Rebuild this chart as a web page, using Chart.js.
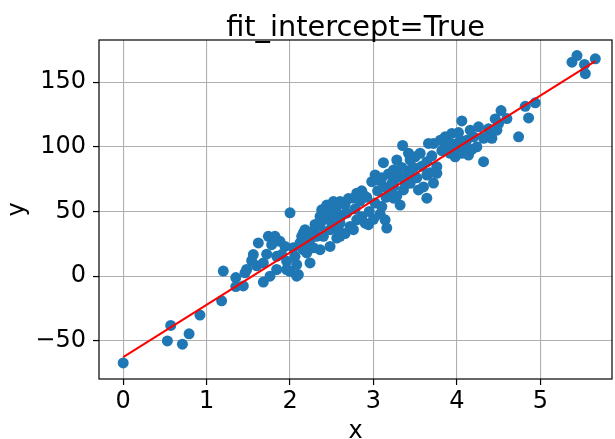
<!DOCTYPE html>
<html>
<head>
<meta charset="utf-8">
<script src="https://cdn.jsdelivr.net/npm/chart.js@4.4.1/dist/chart.umd.min.js"></script>
<style>
  html, body { margin: 0; padding: 0; background: #fff; }
  #wrap { width: 615px; height: 439px; }
</style>
</head>
<body>
<div id="wrap"><canvas id="fitChart" width="615" height="439"></canvas></div>
<script>
// sample points
const xs = [
    0.00, 0.53, 0.57, 0.71, 0.79, 0.92, 1.18, 1.20, 1.35, 1.35,
    1.44, 1.46, 1.48, 1.54, 1.56, 1.60, 1.62, 1.68, 1.68, 1.72,
    1.74, 1.76, 1.78, 1.82, 1.84, 1.84, 1.88, 1.90, 1.94, 1.96,
    1.96, 2.00, 2.00, 2.04, 2.06, 2.08, 2.08, 2.10, 2.12, 2.14,
    2.16, 2.16, 2.18, 2.20, 2.20, 2.24, 2.24, 2.24, 2.28, 2.28,
    2.30, 2.32, 2.36, 2.36, 2.36, 2.38, 2.40, 2.42, 2.44, 2.45,
    2.48, 2.48, 2.50, 2.52, 2.52, 2.55, 2.56, 2.58, 2.60, 2.60,
    2.60, 2.62, 2.66, 2.66, 2.68, 2.70, 2.72, 2.76, 2.76, 2.78,
    2.80, 2.80, 2.84, 2.86, 2.86, 2.88, 2.90, 2.92, 2.94, 2.95,
    2.98, 3.00, 3.02, 3.02, 3.05, 3.06, 3.08, 3.10, 3.10, 3.12,
    3.12, 3.14, 3.15, 3.16, 3.18, 3.20, 3.22, 3.24, 3.24, 3.24,
    3.26, 3.28, 3.28, 3.30, 3.32, 3.34, 3.35, 3.36, 3.38, 3.40,
    3.42, 3.44, 3.44, 3.44, 3.48, 3.50, 3.52, 3.54, 3.56, 3.58,
    3.60, 3.64, 3.64, 3.64, 3.66, 3.68, 3.70, 3.72, 3.72, 3.76,
    3.76, 3.80, 3.82, 3.86, 3.86, 3.90, 3.92, 3.94, 3.96, 3.98,
    4.00, 4.02, 4.04, 4.06, 4.06, 4.10, 4.12, 4.14, 4.16, 4.18,
    4.20, 4.24, 4.26, 4.32, 4.32, 4.36, 4.38, 4.42, 4.46, 4.48,
    4.50, 4.53, 4.60, 4.74, 4.82, 4.86, 4.94, 5.38, 5.44, 5.53,
    5.54, 5.66
];
const ys = [
    -67, -50, -38, -52.5, -44.5, -30, -19, 4, -1, -8,
    -7.5, 2.6, 5.2, 12, 16.7, 8, 25.7, 10.3, -4.5, 17,
    30.8, 0, 24.4, 30.8, 15.4, 5.2, 27, 16.7, 23, 11.5,
    5.2, 49, 3.8, 22, 15.4, 9, 0, 1.3, 25.7, 30.8,
    33.4, 20.5, 36, 18, 26, 30.8, 10.3, 28.2, 34.6, 22,
    40, 30.8, 46.2, 38.5, 20.5, 51.3, 30.8, 44, 55, 50,
    36, 23, 42, 57.7, 46.2, 52, 29.5, 36, 57.7, 41,
    30.8, 47, 55, 33, 48.8, 60, 38.5, 60.3, 36, 52,
    64.2, 43.6, 58, 66, 46, 62.8, 41, 61, 39.8, 50,
    73, 44, 78.2, 56.5, 66, 74.4, 48, 53.8, 76, 87.7,
    69.2, 43.6, 61, 37.2, 79, 65, 71.8, 60.3, 82, 69.2,
    75, 89.8, 62, 77, 55, 84, 101, 66.7, 72, 77,
    95, 89.8, 82, 71.8, 84, 92.3, 76, 66.7, 95, 85,
    69, 88.5, 78.2, 60.3, 102.6, 80, 93, 102.6, 72, 84.6,
    79.5, 105, 97, 107.7, 100, 103, 95, 110.3, 102, 92.3,
    98.8, 111, 105, 120, 95, 100, 105, 93.6, 112.8, 98,
    107.7, 100, 115.4, 88.5, 106.5, 107.7, 114, 106.5, 121.5, 112.8,
    118, 128, 121.8, 107.7, 131.3, 122.3, 134, 165.4, 170.5, 163.6,
    156.5, 168
];

// fitted line end points
const fitX = [0, 5.66];
const fitY = [-62.5, 166.2];

const xTicks = [0, 1, 2, 3, 4, 5];
const yTicks = [-50, 0, 50, 100, 150];

const points = xs.map((x, i) => ({ x: x, y: ys[i] }));
const fitLine = fitX.map((x, i) => ({ x: x, y: fitY[i] }));

const font = "'DejaVu Sans', sans-serif";

// matplotlib style box around the axes
const frame = {
    id: "frame",
    afterDraw(chart) {
        const a = chart.chartArea;
        const ctx = chart.ctx;
        ctx.save();
        ctx.strokeStyle = "#000";
        ctx.lineWidth = 1.2;
        ctx.strokeRect(a.left, a.top, a.right - a.left, a.bottom - a.top);
        ctx.restore();
    }
};

new Chart(document.getElementById("fitChart"), {
    type: "scatter",
    data: {
        datasets: [
            {
                label: "fit",
                data: fitLine,
                showLine: true,
                borderColor: "#ff0000",
                borderWidth: 2,
                pointRadius: 0,
                fill: false,
                order: 0
            },
            {
                label: "data",
                data: points,
                backgroundColor: "#1f77b4",
                borderWidth: 0,
                pointRadius: 5.5,
                order: 1
            }
        ]
    },
    options: {
        responsive: false,
        animation: false,
        layout: { autoPadding: false, padding: { right: 3 } },
        plugins: {
            legend: { display: false },
            tooltip: { enabled: false },
            title: {
                display: true,
                text: "fit_intercept=True",
                fullSize: false,
                color: "#000",
                font: { family: font, size: 28.8, weight: "normal", lineHeight: 1 },
                padding: { top: 14, bottom: -2.8 }
            }
        },
        scales: {
            x: {
                type: "linear",
                min: -0.29,
                max: 5.86,
                afterBuildTicks: (scale) => { scale.ticks = xTicks.map(v => ({ value: v })); },
                afterFit: (scale) => {
                    scale.height = 60;
                    scale.paddingLeft = 0;
                    scale.paddingRight = 0;
                },
                grid: { color: "#b0b0b0", lineWidth: 1.1, tickColor: "#000", tickLength: 6, tickWidth: 1.2 },
                border: { display: false },
                ticks: { color: "#000", font: { family: font, size: 24 }, padding: 2 },
                title: {
                    display: true,
                    text: "x",
                    color: "#000",
                    font: { family: font, size: 24, lineHeight: 1 },
                    padding: { top: 0, bottom: -5 }
                }
            },
            y: {
                type: "linear",
                min: -79.4,
                max: 182.5,
                afterBuildTicks: (scale) => { scale.ticks = yTicks.map(v => ({ value: v })); },
                afterFit: (scale) => {
                    scale.width = 99;
                    scale.paddingTop = 0;
                    scale.paddingBottom = 0;
                },
                grid: { color: "#b0b0b0", lineWidth: 1.1, tickColor: "#000", tickLength: 6, tickWidth: 1.2 },
                border: { display: false },
                ticks: {
                    color: "#000",
                    font: { family: font, size: 24 },
                    padding: 7,
                    callback: (v) => v < 0 ? "\u2212" + Math.abs(v) : String(v)
                },
                title: {
                    display: true,
                    text: "y",
                    color: "#000",
                    font: { family: font, size: 24, lineHeight: 1 },
                    padding: { top: 5.5, bottom: 0 }
                }
            }
        }
    },
    plugins: [frame]
});
</script>
</body>
</html>
